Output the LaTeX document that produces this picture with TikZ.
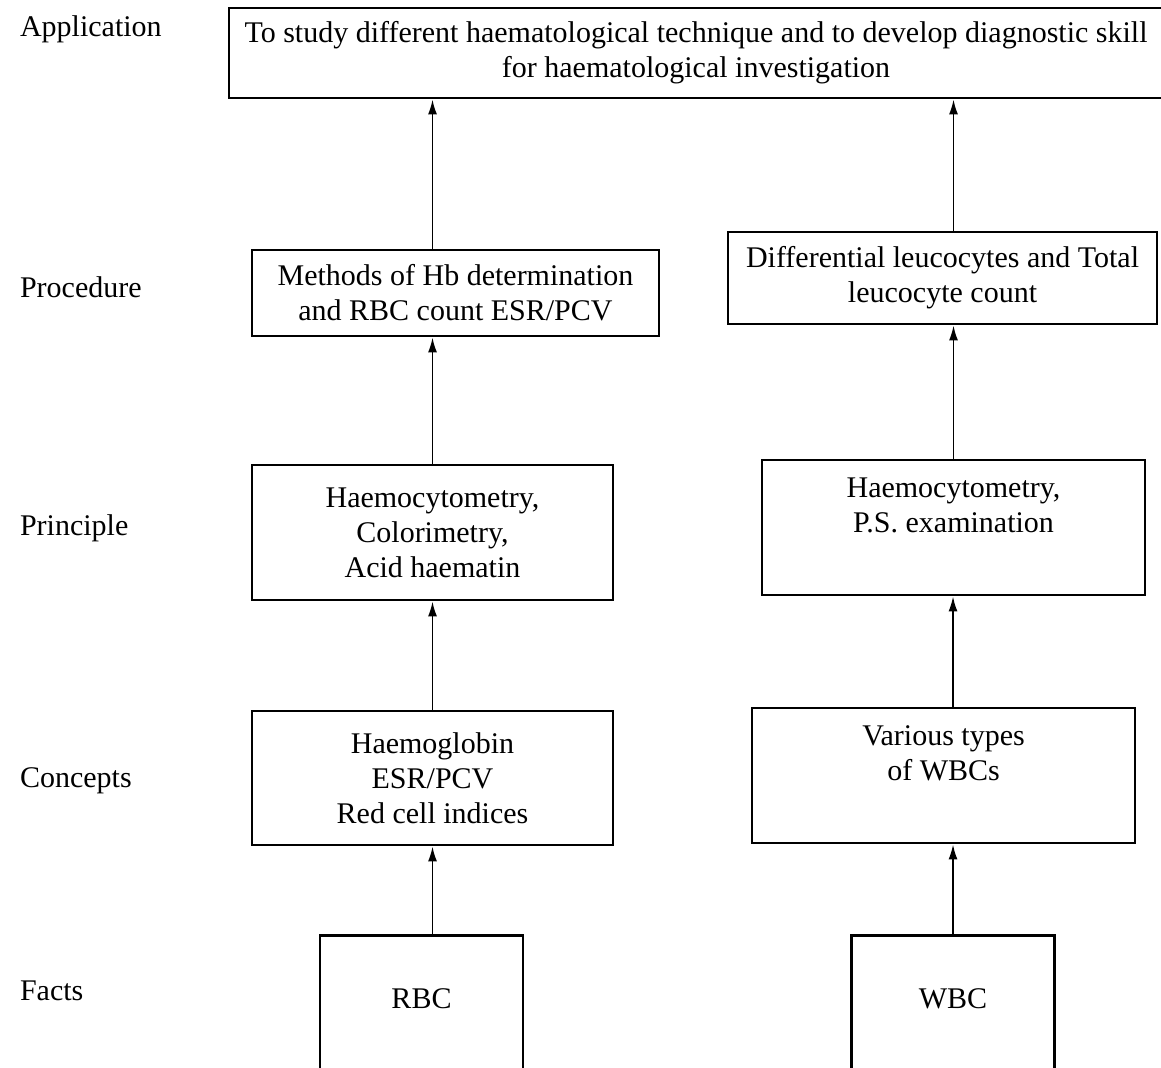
\documentclass[tikz,border=0pt]{standalone}
\usepackage{fontspec}
\setmainfont{Liberation Serif}
\usetikzlibrary{arrows.meta,positioning}
\tikzset{
  levellabel/.style={anchor=base west, font=\fontsize{15}{17.5}\selectfont},
  stepbox/.style={draw, line width=1.4pt, align=center, inner sep=0pt,
                  font=\fontsize{15}{17.5}\selectfont},
  factbox/.style={stepbox, anchor=north, minimum width=101.5pt,
                  text height=36.5pt, text depth=46.5pt},
  arrow/.style={-{Latex[length=7.5pt,width=4.5pt]}, line width=0.9pt},
}

\begin{document}
\begin{tikzpicture}[x=0.5pt, y=-0.5pt]

  \useasboundingbox (0,0) rectangle (1161,1067);
  \clip (0,0) rectangle (1161,1067);

  % level names down the left side
  \node[levellabel] (lapp)  at (13,36)  {Application};
  \node[levellabel] (lproc) at (13,297) {Procedure};
  \node[levellabel] (lprin) at (13,535) {Principle};
  \node[levellabel] (lconc) at (13,787) {Concepts};
  \node[levellabel] (lfact) at (13,1000) {Facts};

  \node[stepbox, minimum width=467pt, minimum height=45pt] (app) at (696,53)
    {To study different haematological technique and to develop diagnostic skill\\for haematological investigation};

  \node[stepbox, minimum width=203.5pt, minimum height=43pt] (procl) at (455.5,293)
    {Methods of Hb determination\\and RBC count ESR/PCV};
  \node[stepbox, minimum width=214.5pt, minimum height=46pt] (procr) at (942.5,278)
    {Differential leucocytes and Total\\leucocyte count};

  \node[stepbox, minimum width=180.5pt, minimum height=67.5pt] (prinl) at (432.5,532.5)
    {Haemocytometry,\\Colorimetry,\\Acid haematin};
  \node[stepbox, minimum width=191.5pt, minimum height=67.5pt] (prinr) at (953.5,527.5)
    {Haemocytometry,\\P.S. examination\\\strut};

  \node[stepbox, minimum width=180.5pt, minimum height=67pt] (concl) at (432.5,778)
    {Haemoglobin\\ESR/PCV\\Red cell indices};
  \node[stepbox, minimum width=191.5pt, minimum height=67.5pt] (concr) at (943.5,775.5)
    {Various types\\of WBCs\\\strut};

  \node[factbox] (rbc) at (421.5,934) {RBC};
  \node[factbox] (wbc) at (953,934) {WBC};

  % left column
  \draw[arrow] (rbc.north -| concl.south) -- (concl.south);
  \draw[arrow] (concl.north) -- (prinl.south);
  \draw[arrow] (prinl.north) -- (prinl.north |- procl.south);
  \draw[arrow] (procl.north -| prinl.north) -- (prinl.north |- app.south);

  % right column
  \draw[arrow] (wbc.north) -- (wbc.north |- concr.south);
  \draw[arrow] (concr.north -| wbc.north) -- (wbc.north |- prinr.south);
  \draw[arrow] (prinr.north) -- (prinr.north |- procr.south);
  \draw[arrow] (procr.north -| prinr.north) -- (prinr.north |- app.south);

\end{tikzpicture}
\end{document}
